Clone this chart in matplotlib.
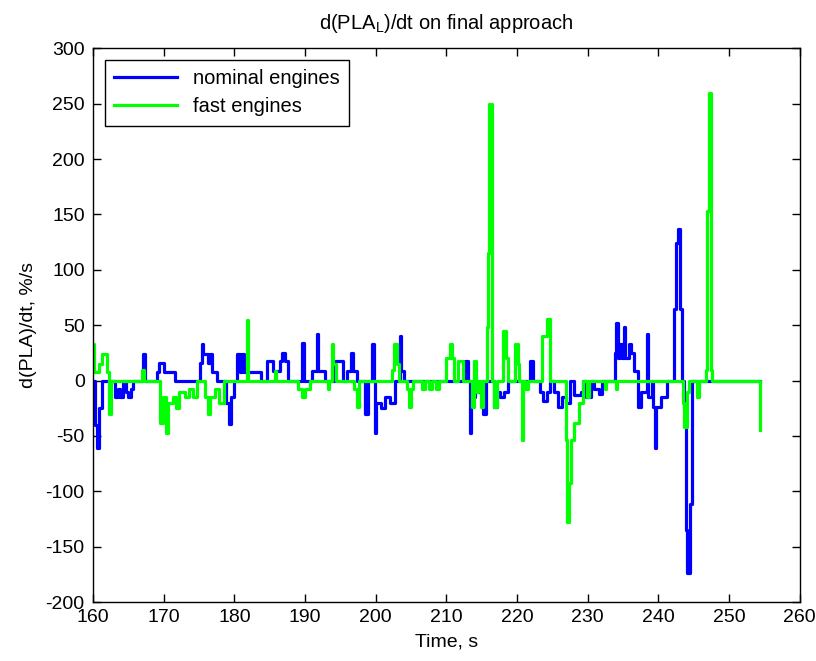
import matplotlib.pyplot as plt

plt.rcParams['font.family'] = ['Liberation Sans', 'DejaVu Sans']
plt.rcParams['axes.unicode_minus'] = False
plt.rcParams['mathtext.default'] = 'regular'

# step breakpoints: value holds from each time to the next
nominal_time = [160.0, 160.3, 160.5, 160.8, 161.2, 163.1, 163.5, 163.8, 164.2, 164.6,
                165.0, 165.4, 165.7, 167.1, 167.3, 169.0, 169.4, 170.0, 171.6, 175.1,
                175.4, 175.6, 176.2, 176.5, 176.9, 177.5, 178.8, 179.2, 179.5, 179.9,
                180.4, 180.8, 181.1, 181.4, 183.7, 184.6, 185.4, 186.4, 186.8, 187.1,
                187.6, 189.6, 189.8, 191.0, 191.7, 191.9, 192.8, 194.2, 195.4, 196.0,
                196.5, 196.8, 197.3, 198.5, 198.9, 199.5, 199.7, 199.9, 200.1, 200.8,
                201.3, 202.0, 202.7, 203.4, 203.6, 204.0, 212.6, 213.1, 213.3, 213.5,
                214.0, 215.2, 215.6, 216.8, 217.1, 217.6, 218.2, 218.7, 221.8, 222.2,
                223.2, 223.7, 224.3, 224.6, 225.3, 225.8, 226.3, 227.0, 227.5, 228.0,
                229.0, 229.4, 229.8, 230.5, 230.9, 231.6, 232.0, 233.8, 234.0, 234.3,
                234.6, 234.9, 235.1, 235.3, 235.8, 236.2, 236.6, 237.1, 237.5, 238.4,
                238.6, 239.1, 239.2, 239.5, 239.7, 240.4, 241.2, 242.2, 242.5, 242.8,
                243.1, 243.4, 243.6, 243.9, 244.1, 244.5, 244.7, 254.4]
nominal_rate = [0, -40, -61, -25, 0, -15, -8, -15, 0, -10,
                -15, -8, 0, 24, 0, 8, 16, 8, 0, 16,
                33, 24, 16, 24, 8, 0, -20, -39, -15, 0,
                24, 8, 24, 8, 0, 18, 9, 18, 25, 18,
                0, 34, 0, 9, 42, 9, 0, 18, 0, 9,
                25, 9, 0, -30, 0, 33, 0, -47, -20, -25,
                -15, -20, 0, 40, 9, 0, 18, 0, -47, -15,
                -10, -30, 0, -24, -10, -15, -10, 0, 18, 0,
                -10, -18, -10, 0, -10, -24, -15, -20, 0, -13,
                -10, 0, -15, 0, -8, -12, 0, 25, 52, 20,
                33, 20, 48, 20, 33, 25, 9, -24, -10, 42,
                -15, 0, -24, -61, -24, -15, 0, 65, 124, 137,
                65, 0, -20, -135, -174, -111, 0, 0]

fast_time = [160.0, 160.2, 160.8, 161.3, 162.0, 162.3, 162.5, 167.0, 167.2, 169.5,
             169.9, 170.3, 170.6, 171.3, 171.8, 172.2, 173.0, 173.6, 174.2, 174.7,
             175.8, 176.3, 176.5, 177.3, 177.8, 178.5, 181.8, 182.0, 185.7, 185.9,
             189.0, 189.6, 190.0, 190.7, 193.2, 193.4, 193.8, 194.0, 194.4, 197.0,
             197.4, 197.6, 202.3, 202.6, 203.0, 203.3, 204.4, 204.7, 205.0, 205.3,
             206.5, 207.0, 207.5, 208.0, 208.5, 209.0, 210.0, 210.5, 210.8, 211.1,
             211.6, 212.3, 213.6, 213.9, 214.2, 214.5, 214.9, 215.2, 215.7, 215.9,
             216.1, 216.4, 216.8, 217.1, 218.0, 218.5, 218.7, 219.7, 220.1, 220.3,
             220.7, 220.9, 221.2, 221.5, 223.6, 224.2, 224.6, 226.9, 227.1, 227.3,
             227.6, 228.0, 228.8, 229.3, 229.9, 230.2, 232.4, 232.6, 234.0, 234.2,
             243.5, 243.7, 244.0, 244.3, 245.5, 245.7, 246.7, 246.9, 247.1, 247.2,
             247.4, 247.6, 254.4]
fast_rate = [33, 8, 15, 24, 8, -30, 0, 10, 0, -38,
             -15, -47, -20, -15, -25, -10, -15, -8, -15, 0,
             -15, -30, -15, -8, -20, 0, 55, 0, 9, 0,
             -8, -15, -8, 0, -8, 0, 33, 15, 0, -8,
             -24, 0, 10, 33, 15, 0, -8, -24, -8, 0,
             -8, 0, -8, 0, -8, 0, 20, 33, 20, 0,
             18, 0, -24, 18, -10, 0, -24, 0, 48, 115,
             250, 0, -24, 0, 45, 20, 0, 33, 15, 0,
             -54, 0, -8, 0, 40, 56, 0, -54, -128, -92,
             -54, -38, -20, 0, -15, 0, -8, 0, -8, 0,
             -20, -42, -10, 0, -15, 0, 10, 153, 176, 260,
             10, 0, -45]

fig = plt.figure(figsize=(8.16, 6.61), dpi=100)
ax = fig.add_axes([0.114, 0.089, 0.866, 0.838])

ax.step(nominal_time, nominal_rate, where='post', color='#0000ff', lw=2.3, label='nominal engines')
ax.step(fast_time, fast_rate, where='post', color='#00ff00', lw=2.3, label='fast engines')

ax.set_xlim(160, 260)
ax.set_ylim(-200, 300)
ax.set_xticks(range(160, 261, 10))
ax.set_yticks(range(-200, 301, 50))
ax.tick_params(direction='in', top=True, right=True, labelsize=14, length=6, width=1)
ax.tick_params(axis='x', pad=5)
ax.tick_params(axis='y', pad=6)
for s in ax.spines.values():
    s.set_linewidth(1)

ax.set_xlabel('Time, s', fontsize=14, labelpad=5)
ax.set_ylabel('d(PLA)/dt, %/s', fontsize=14, labelpad=6)
ax.set_title('d(PLA$_L$)/dt on final approach', fontsize=14.5, pad=14)

leg = ax.legend(loc='upper left', fontsize=14.5, fancybox=False, edgecolor='black',
                handlelength=3.1, borderaxespad=0.6, framealpha=1, borderpad=0.45,
                labelspacing=0.45)
leg.get_frame().set_linewidth(1)

fig.savefig('out.png', dpi=100)
